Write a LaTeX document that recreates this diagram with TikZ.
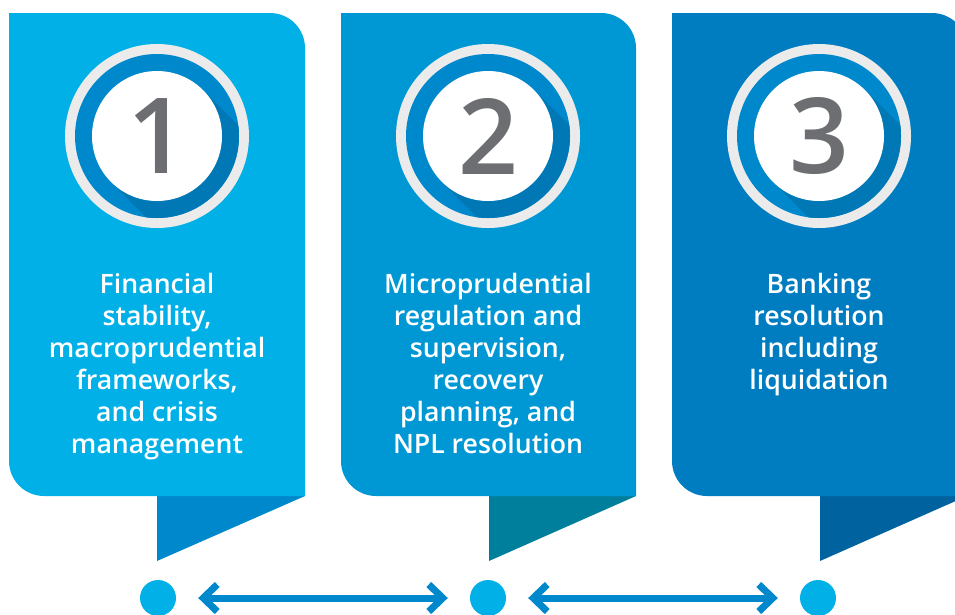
\documentclass[tikz,border=0pt]{standalone}
\usepackage{fontspec}
\setmainfont{Open Sans}
\newfontfamily\semibold{Open Sans Semibold}
\usetikzlibrary{arrows.meta}

\definecolor{paneA}{RGB}{0,176,230}
\definecolor{paneB}{RGB}{0,152,212}
\definecolor{paneC}{RGB}{0,125,192}
\definecolor{tabA}{RGB}{0,136,204}
\definecolor{tabB}{RGB}{0,127,157}
\definecolor{tabC}{RGB}{0,99,160}
\definecolor{ringblue}{RGB}{0,136,204}
\definecolor{ringshade}{RGB}{0,120,182}
\definecolor{ringgray}{RGB}{235,235,235}
\definecolor{digitgray}{RGB}{109,110,113}

\tikzset{
  digit/.style = {inner sep=0pt, text=digitgray,
    font=\semibold\fontsize{105}{105}\selectfont},
  caption/.style = {inner sep=0pt, text=white, align=center,
    font=\semibold\fontsize{26.7}{32}\selectfont},
  dot/.style = {circle, fill=paneA, minimum size=36pt, inner sep=0pt},
  link/.style = {draw=tabA, line width=7pt,
    {Straight Barb[length=14pt, width=27pt]}-{Straight Barb[length=14pt, width=27pt]},
    shorten <=22pt, shorten >=22pt}
}

\begin{document}
\begin{tikzpicture}[x=1pt, y=-1pt]
  \useasboundingbox (0,0) rectangle (955,614);
  \clip (0,0) rectangle (955,614);

  % panels with their tabs
  \fill [tabA] (157,490) -- (305,496) -- (157,561) -- cycle;
  \fill [paneA] (9,13) [rounded corners=35pt] -- (305,13) [sharp corners]
    -- (305,496) [rounded corners=35pt] -- (9,496) [sharp corners] -- cycle;
  \fill [tabB] (489,490) -- (636,496) -- (489,561) -- cycle;
  \fill [paneB] (341,13) [rounded corners=35pt] -- (636,13) [sharp corners]
    -- (636,496) [rounded corners=35pt] -- (341,496) [sharp corners] -- cycle;
  \fill [tabC] (820,490) -- (967,496) -- (820,561) -- cycle;
  \fill [paneC] (672,13) [rounded corners=35pt] -- (967,13) [sharp corners]
    -- (967,496) [rounded corners=35pt] -- (672,496) [sharp corners] -- cycle;

  % numbered rings
  \fill [ringgray] (157,136) circle (92);
  \fill [ringblue] (157,136) circle (82);
  \begin{scope}
    \clip (157,136) circle (82);
    \fill [ringshade] (203,90) -- (263,150) -- (171,242) -- (111,182) -- cycle;
  \end{scope}
  \fill [white] (157,136) circle (65);
  \node [digit] (n1) at (157,136) {1};

  \fill [ringgray] (488,136) circle (92);
  \fill [ringblue] (488,136) circle (82);
  \begin{scope}
    \clip (488,136) circle (82);
    \fill [ringshade] (534,90) -- (594,150) -- (502,242) -- (442,182) -- cycle;
  \end{scope}
  \fill [white] (488,136) circle (65);
  \node [digit] (n2) at (488,136) {2};

  \fill [ringgray] (819,136) circle (92);
  \fill [ringblue] (819,136) circle (82);
  \begin{scope}
    \clip (819,136) circle (82);
    \fill [ringshade] (865,90) -- (925,150) -- (833,242) -- (773,182) -- cycle;
  \end{scope}
  \fill [white] (819,136) circle (65);
  \node [digit] (n3) at (819,136) {3};

  % captions
  \node [caption, anchor=north] (t1) at (157,273) {Financial\\stability,\\macroprudential\\frameworks,\\and crisis\\management};
  \node [caption, anchor=north] (t2) at (488,273) {Microprudential\\regulation and\\supervision,\\recovery\\planning, and\\NPL resolution};
  \node [caption, anchor=north] (t3) at (819,273) {Banking\\resolution\\including\\liquidation};

  % timeline
  \node [dot] (d1) at (158,598) {};
  \node [dot] (d2) at (488,598) {};
  \node [dot] (d3) at (818,598) {};
  \draw [link] (d1) -- (d2);
  \draw [link] (d2) -- (d3);
\end{tikzpicture}
\end{document}
